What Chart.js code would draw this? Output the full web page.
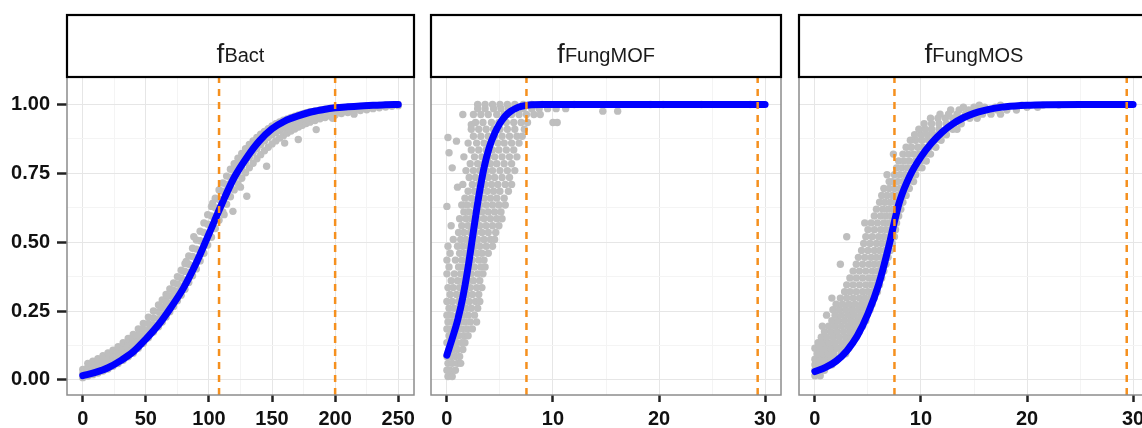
<!DOCTYPE html>
<html>
<head>
<meta charset="utf-8">
<script src="https://cdn.jsdelivr.net/npm/chart.js@4.4.0/dist/chart.umd.min.js"></script>
<style>
  html, body { margin: 0; padding: 0; background: #fff; overflow: hidden; width: 1142px; height: 428px; }
  canvas { position: absolute; top: 0; }
</style>
</head>
<body>
<canvas id="pBact" width="422" height="428" style="left:0px;width:422px;height:428px"></canvas>
<canvas id="pMOF" width="369" height="428" style="left:422px;width:369px;height:428px"></canvas>
<canvas id="pMOS" width="370" height="428" style="left:789px;width:370px;height:428px"></canvas>
<script>
// ---- axis ticks ----
const yMajor = [0, 0.25, 0.5, 0.75, 1];
const yMinor = [0.125, 0.375, 0.625, 0.875];
const bactMajor = [0, 50, 100, 150, 200, 250];
const bactMinor = [25, 75, 125, 175, 225];
const fungMajor = [0, 10, 20, 30];
const fungMinor = [5, 15, 25];

// ---- fitted curves ----
const bactCurveX = [0, 10, 20, 30, 40, 50, 60, 70, 80, 90, 100, 110, 120, 130, 140, 150, 160, 170, 180, 190, 200, 210, 220, 230, 240, 250];
const bactCurveY = [0.015, 0.027, 0.044, 0.070, 0.102, 0.148, 0.200, 0.264, 0.335, 0.425, 0.530, 0.637, 0.735, 0.808, 0.868, 0.912, 0.940, 0.958, 0.972, 0.981, 0.988, 0.992, 0.995, 0.997, 0.999, 1.000];

const mofCurveX = [0, 0.5, 1, 1.5, 2, 2.5, 3, 3.5, 4, 4.5, 5, 5.5, 6, 6.5, 7, 7.5, 8, 9, 10, 15, 20, 25, 30];
const mofCurveY = [0.09, 0.15, 0.215, 0.30, 0.41, 0.54, 0.665, 0.77, 0.845, 0.895, 0.932, 0.958, 0.975, 0.986, 0.993, 0.997, 0.999, 1.0, 1.0, 1.0, 1.0, 1.0, 1.0];

const mosCurveX = [0, 1, 2, 3, 4, 5, 6, 7, 7.5, 8, 9, 10, 11, 12, 13, 14, 15, 16, 17, 18, 20, 22, 25, 30];
const mosCurveY = [0.03, 0.045, 0.068, 0.105, 0.16, 0.24, 0.345, 0.49, 0.575, 0.65, 0.745, 0.81, 0.86, 0.90, 0.93, 0.952, 0.968, 0.979, 0.987, 0.992, 0.997, 0.999, 1.0, 1.0];

// ---- vertical cut-off lines ----
const bactCuts = [108, 200];
const mofCuts = [7.5, 29.3];
const mosCuts = [7.5, 29.4];

// ---- observations: f_Bact, grouped by x -> [y values] ----
const bactObs = [
  [0, [0.008, 0.022, 0.038]], [4, [0.014, 0.03, 0.046, 0.06]], [8, [0.019, 0.036, 0.052, 0.068]],
  [12, [0.025, 0.043, 0.06, 0.077]], [16, [0.032, 0.052, 0.07, 0.088]], [20, [0.039, 0.06, 0.08, 0.098]],
  [24, [0.049, 0.07, 0.09, 0.108]], [28, [0.059, 0.082, 0.102, 0.12]], [32, [0.071, 0.095, 0.115, 0.135]],
  [36, [0.084, 0.108, 0.13, 0.15]], [40, [0.097, 0.122, 0.145, 0.165]], [44, [0.115, 0.14, 0.163, 0.185]],
  [48, [0.133, 0.16, 0.183, 0.205]], [52, [0.153, 0.18, 0.205, 0.228]], [56, [0.174, 0.2, 0.225, 0.25]],
  [60, [0.193, 0.222, 0.248, 0.272]], [63, [0.21, 0.24, 0.265, 0.29]], [66, [0.228, 0.258, 0.285, 0.31]],
  [69, [0.247, 0.278, 0.305, 0.33]], [72, [0.266, 0.298, 0.325, 0.352]], [75, [0.287, 0.32, 0.348, 0.375]],
  [78, [0.307, 0.34, 0.37, 0.398]], [81, [0.329, 0.363, 0.394, 0.422]], [84, [0.354, 0.39, 0.42, 0.45]],
  [87, [0.378, 0.415, 0.448, 0.478]], [90, [0.403, 0.44, 0.475, 0.508]], [93, [0.432, 0.47, 0.505, 0.54]],
  [96, [0.46, 0.5, 0.535, 0.57]], [99, [0.49, 0.53, 0.565, 0.6]], [102, [0.518, 0.56, 0.595, 0.63]],
  [105, [0.55, 0.59, 0.625, 0.66]], [108, [0.58, 0.62, 0.655, 0.69]], [111, [0.61, 0.65, 0.685, 0.715]],
  [114, [0.638, 0.678, 0.71, 0.74]], [117, [0.665, 0.705, 0.735, 0.765]], [120, [0.69, 0.73, 0.76, 0.785]],
  [123, [0.712, 0.75, 0.78, 0.805]], [126, [0.732, 0.77, 0.8, 0.822]], [129, [0.752, 0.79, 0.818, 0.84]],
  [132, [0.77, 0.808, 0.835, 0.855]], [135, [0.787, 0.825, 0.85, 0.868]], [138, [0.803, 0.84, 0.865, 0.88]],
  [141, [0.818, 0.855, 0.878, 0.892]], [144, [0.832, 0.868, 0.89, 0.902]], [147, [0.845, 0.88, 0.9, 0.912]],
  [150, [0.857, 0.89, 0.91, 0.922]], [153, [0.868, 0.898, 0.918, 0.93]], [156, [0.878, 0.906, 0.926, 0.937]],
  [159, [0.887, 0.914, 0.932, 0.943]], [162, [0.896, 0.92, 0.938, 0.948]], [165, [0.904, 0.926, 0.943, 0.953]],
  [168, [0.911, 0.932, 0.948, 0.958]], [171, [0.918, 0.938, 0.953, 0.962]], [174, [0.925, 0.943, 0.957, 0.966]],
  [177, [0.931, 0.948, 0.961, 0.97]], [180, [0.936, 0.952, 0.965, 0.974]], [184, [0.942, 0.957, 0.969, 0.977]],
  [188, [0.948, 0.962, 0.973, 0.98]], [192, [0.953, 0.966, 0.976, 0.983]], [196, [0.958, 0.97, 0.979, 0.986]],
  [200, [0.962, 0.973, 0.982, 0.988]], [205, [0.967, 0.977, 0.986]], [210, [0.971, 0.98, 0.989]],
  [215, [0.975, 0.983, 0.991]], [220, [0.978, 0.986, 0.993]], [225, [0.981, 0.989, 0.995]],
  [230, [0.985, 0.991, 0.996]], [235, [0.988, 0.993, 0.997]], [240, [0.991, 0.995, 0.998]],
  [245, [0.994, 0.997]], [250, [0.996, 0.999]],
  [82, [0.43]], [88, [0.52]], [103, [0.642]], [112, [0.6]], [119, [0.612]], [125, [0.7]],
  [130, [0.667]], [145.7, [0.776]], [160, [0.86]], [170.8, [0.873]], [185, [0.909]],
  [198, [0.95]], [215, [0.965]]
];

// ---- observations: f_FungMOF, grouped by y -> [x values] ----
const mofObs = [
  [0.012, [0.1, 0.5]],
  [0.035, [0.0, 0.3, 0.8]],
  [0.06, [0.1, 0.5, 1.0, 1.3]],
  [0.085, [0.0, 0.4, 0.8, 1.2]],
  [0.11, [0.2, 0.6, 1.0, 1.5]],
  [0.135, [0.0, 0.5, 0.9, 1.4, 1.7]],
  [0.16, [0.2, 0.7, 1.1, 1.6, 2.0]],
  [0.185, [0.0, 0.4, 0.9, 1.4, 1.9, 2.4]],
  [0.21, [0.1, 0.6, 1.2, 1.7, 2.2, 2.8]],
  [0.235, [0.0, 0.4, 1.0, 1.5, 2.0, 2.6]],
  [0.26, [0.2, 0.7, 1.3, 1.8, 2.3, 2.9]],
  [0.285, [0.0, 0.5, 1.1, 1.6, 2.1, 2.7, 3.1]],
  [0.31, [0.3, 0.9, 1.4, 1.9, 2.4, 3.0]],
  [0.335, [0.1, 0.6, 1.2, 1.7, 2.2, 2.8, 3.3]],
  [0.36, [0.4, 1.0, 1.5, 2.0, 2.5, 3.1]],
  [0.385, [0.0, 0.7, 1.3, 1.8, 2.3, 2.9, 3.4]],
  [0.41, [0.2, 1.1, 1.6, 2.1, 2.6, 3.2, 3.6]],
  [0.435, [0.0, 0.8, 1.4, 1.9, 2.4, 3.0, 3.5]],
  [0.46, [0.3, 1.2, 1.7, 2.2, 2.8, 3.3, 3.9]],
  [0.485, [0.1, 1.0, 1.5, 2.0, 2.6, 3.1, 3.7, 4.3]],
  [0.51, [0.6, 1.3, 1.8, 2.4, 2.9, 3.5, 4.1, 4.5]],
  [0.535, [1.1, 1.6, 2.2, 2.7, 3.3, 3.9, 4.6]],
  [0.56, [0.4, 1.4, 2.0, 2.5, 3.1, 3.7, 4.3, 4.9]],
  [0.585, [1.2, 1.8, 2.3, 2.9, 3.5, 4.1, 4.7, 5.2]],
  [0.61, [1.6, 2.1, 2.7, 3.3, 3.9, 4.5, 5.1]],
  [0.63, [0.0]],
  [0.635, [1.4, 1.9, 2.5, 3.1, 3.7, 4.3, 4.9, 5.5]],
  [0.66, [1.7, 2.3, 2.9, 3.5, 4.1, 4.7, 5.4]],
  [0.685, [2.0, 2.6, 3.2, 3.8, 4.4, 5.0, 5.8]],
  [0.70, [1.0]],
  [0.71, [1.5, 2.4, 3.0, 3.6, 4.2, 4.8, 5.5, 6.1]],
  [0.735, [2.1, 2.7, 3.3, 3.9, 4.5, 5.2, 5.9]],
  [0.76, [1.8, 2.5, 3.1, 3.7, 4.3, 5.0, 5.7, 6.4]],
  [0.77, [0.5]],
  [0.785, [2.2, 2.9, 3.5, 4.1, 4.7, 5.4, 6.1]],
  [0.81, [1.6, 2.6, 3.3, 3.9, 4.5, 5.2, 5.9, 6.6]],
  [0.825, [0.2]],
  [0.835, [2.3, 3.0, 3.7, 4.3, 4.9, 5.6, 6.3]],
  [0.86, [2.0, 2.8, 3.5, 4.1, 4.8, 5.4, 6.1, 6.8]],
  [0.867, [0.9]],
  [0.88, [0.1]],
  [0.885, [2.5, 3.2, 3.9, 4.5, 5.2, 5.9, 6.6, 7.1]],
  [0.91, [2.3, 3.0, 3.7, 4.4, 5.0, 5.7, 6.4, 7.3]],
  [0.927, [2.3]],
  [0.935, [2.7, 3.4, 4.2, 4.9, 5.6, 6.3, 7.0, 7.6, 10.0, 10.4]],
  [0.964, [1.5, 2.5, 3.2, 3.9, 4.7, 5.4, 6.1, 6.8, 7.5, 8.2, 8.8]],
  [0.976, [14.7, 16.1]],
  [0.985, [2.9, 3.6, 4.4, 5.1, 5.8, 6.5, 7.2, 8.0, 8.7, 9.5, 10.3, 11.2]],
  [1.0, [2.9, 3.6, 4.3, 5.0, 5.7, 6.4, 7.2, 8.0, 9.0, 12.0, 19.2, 20.4, 24.0, 28.6]]
];

// ---- observations: f_FungMOS, grouped by y -> [x values] ----
const mosObs = [
  [0.015, [0.0, 0.5]],
  [0.035, [0.0, 0.4, 0.9]],
  [0.055, [0.0, 0.4, 0.8, 1.3, 1.6]],
  [0.075, [0.0, 0.5, 1.0, 1.5, 2.1]],
  [0.095, [0.2, 0.7, 1.2, 1.8, 2.5, 2.9]],
  [0.115, [0.0, 0.5, 1.0, 1.5, 2.1, 2.7, 3.2]],
  [0.135, [0.3, 0.8, 1.3, 1.9, 2.5, 3.0, 3.5]],
  [0.155, [0.6, 1.1, 1.7, 2.3, 2.9, 3.4, 3.9]],
  [0.175, [0.9, 1.5, 2.1, 2.7, 3.3, 3.8, 4.2]],
  [0.195, [0.7, 1.3, 1.9, 2.5, 3.1, 3.7, 4.1, 4.5]],
  [0.215, [1.6, 2.2, 2.8, 3.4, 4.0, 4.4, 4.8]],
  [0.235, [1.1, 1.9, 2.5, 3.1, 3.7, 4.3, 4.9]],
  [0.255, [1.7, 2.3, 2.9, 3.5, 4.1, 4.6, 5.2]],
  [0.275, [2.0, 2.6, 3.2, 3.8, 4.4, 4.9, 5.4]],
  [0.297, [1.6, 2.4, 3.0, 3.6, 4.2, 4.7, 5.2, 5.6]],
  [0.32, [2.8, 3.3, 3.9, 4.5, 5.0, 5.5, 5.9]],
  [0.345, [3.0, 3.6, 4.2, 4.8, 5.3, 5.8, 6.1]],
  [0.37, [3.3, 3.9, 4.5, 5.1, 5.6, 6.0, 6.3]],
  [0.395, [3.6, 4.2, 4.8, 5.4, 5.9, 6.3, 6.5]],
  [0.42, [2.4, 3.9, 4.5, 5.1, 5.6, 6.1, 6.5, 6.7]],
  [0.445, [4.1, 4.7, 5.3, 5.8, 6.3, 6.7, 6.9]],
  [0.47, [4.4, 5.0, 5.6, 6.1, 6.6, 6.9, 7.1]],
  [0.495, [4.6, 5.2, 5.8, 6.3, 6.8, 7.1, 7.3]],
  [0.52, [3.0, 4.8, 5.4, 6.0, 6.5, 7.0, 7.3, 7.5]],
  [0.545, [5.0, 5.6, 6.2, 6.7, 7.2, 7.5, 7.6]],
  [0.57, [4.7, 5.3, 5.9, 6.5, 7.0, 7.4, 7.7]],
  [0.595, [5.6, 6.2, 6.7, 7.2, 7.6, 7.9]],
  [0.62, [5.8, 6.4, 6.9, 7.4, 7.8, 8.1]],
  [0.645, [6.1, 6.6, 7.1, 7.6, 8.0, 8.3]],
  [0.67, [6.3, 6.8, 7.3, 7.8, 8.2, 8.6]],
  [0.695, [6.5, 7.0, 7.5, 8.0, 8.5, 8.9]],
  [0.72, [7.0, 7.3, 7.8, 8.3, 8.8, 9.3]],
  [0.745, [6.8, 7.5, 8.0, 8.5, 9.0, 9.5]],
  [0.77, [7.7, 8.2, 8.7, 9.2, 9.7, 10.1]],
  [0.795, [7.9, 8.4, 8.9, 9.5, 10.0, 10.5]],
  [0.82, [7.4, 8.3, 8.8, 9.3, 9.8, 10.4, 10.9]],
  [0.845, [8.6, 9.1, 9.7, 10.2, 10.8, 11.4]],
  [0.87, [9.0, 9.5, 10.1, 10.7, 11.3, 11.9]],
  [0.89, [9.4, 10.0, 10.6, 11.2, 11.8, 12.4]],
  [0.91, [9.8, 10.4, 11.0, 11.7, 12.4, 13.0, 13.4]],
  [0.93, [10.3, 11.0, 11.7, 12.4, 13.1, 13.8]],
  [0.95, [10.9, 11.6, 12.3, 13.0, 13.8, 14.6, 15.3]],
  [0.965, [11.8, 12.6, 13.4, 14.2, 15.0, 15.8, 16.6, 17.5]],
  [0.98, [12.8, 13.6, 14.5, 15.4, 16.3, 17.2, 18.1, 19.0]],
  [0.99, [14.0, 15.0, 16.0, 17.0, 18.0, 19.0, 20.0, 21.0]],
  [0.998, [15.5, 17.5, 19.5, 21.5, 23.0]]
];

// ---- helpers ----
function fromColumns(cols) {
  const out = [];
  cols.forEach(([x, ys]) => ys.forEach(y => out.push({ x, y })));
  return out;
}
function fromRows(rows) {
  const out = [];
  rows.forEach(([y, xs]) => xs.forEach(x => out.push({ x, y })));
  return out;
}
function zipXY(xs, ys) { return xs.map((x, i) => ({ x, y: ys[i] })); }

function tickSetter(major, minor) {
  return function (scale) {
    const t = major.map(v => ({ value: v, minor: false }))
      .concat(minor.map(v => ({ value: v, minor: true })));
    t.sort((a, b) => a.value - b.value);
    scale.ticks = t;
  };
}

const Y_MIN = -0.055, Y_MAX = 1.1;
const STRIP_TOP = 15;
const tickFont = { family: "'Liberation Sans', Arial, sans-serif", size: 20, weight: 'bold' };

// facet strip on top of the panel plus grey panel frame
const facetPlugin = {
  id: 'facet',
  afterDatasetsDraw(chart) {
    const a = chart.chartArea, ctx = chart.ctx;
    ctx.save();
    ctx.strokeStyle = '#8c8c8c';
    ctx.lineWidth = 1.5;
    ctx.strokeRect(a.left, a.top, a.right - a.left, a.bottom - a.top);
    ctx.restore();
  },
  afterDraw(chart, args, opts) {
    const a = chart.chartArea, ctx = chart.ctx;
    ctx.save();
    ctx.fillStyle = '#ffffff';
    ctx.fillRect(a.left, STRIP_TOP, a.right - a.left, a.top - STRIP_TOP);
    ctx.strokeStyle = '#000000';
    ctx.lineWidth = 2.2;
    ctx.strokeRect(a.left, STRIP_TOP, a.right - a.left, a.top - STRIP_TOP);
    const mainFont = "28px 'Liberation Sans', Arial, sans-serif";
    const subFont = "20px 'Liberation Sans', Arial, sans-serif";
    ctx.font = mainFont;
    const wMain = ctx.measureText(opts.main).width;
    ctx.font = subFont;
    const wSub = ctx.measureText(opts.sub).width;
    const total = wMain + wSub;
    const x0 = (a.left + a.right) / 2 - total / 2;
    ctx.fillStyle = '#1a1a1a';
    ctx.textBaseline = 'alphabetic';
    ctx.textAlign = 'left';
    ctx.font = mainFont;
    ctx.fillText(opts.main, x0, 63);
    ctx.font = subFont;
    ctx.fillText(opts.sub, x0 + wMain, 62);
    ctx.restore();
  }
};

function makePanel(id, p) {
  const datasets = [];
  p.cuts.forEach(c => datasets.push({
    type: 'line',
    data: [{ x: c, y: Y_MIN }, { x: c, y: Y_MAX }],
    borderColor: '#f5901e',
    borderWidth: 2.5,
    borderDash: [7, 6],
    pointRadius: 0,
    showLine: true,
    order: 1
  }));
  datasets.push({
    type: 'line',
    data: p.curve,
    borderColor: '#0000ff',
    borderWidth: 7,
    borderCapStyle: 'round',
    borderJoinStyle: 'round',
    cubicInterpolationMode: 'monotone',
    pointRadius: 0,
    showLine: true,
    fill: false,
    order: 2
  });
  datasets.push({
    type: 'scatter',
    data: p.points,
    pointRadius: 3.7,
    pointBackgroundColor: '#bebebe',
    pointBorderColor: '#bebebe',
    pointBorderWidth: 0,
    pointHoverRadius: 3.7,
    order: 3
  });

  return new Chart(document.getElementById(id), {
    type: 'scatter',
    data: { datasets },
    plugins: [facetPlugin],
    options: {
      responsive: false,
      animation: false,
      devicePixelRatio: 1,
      events: [],
      layout: { padding: { top: 77, right: p.padRight, left: 0, bottom: 0 } },
      plugins: {
        legend: { display: false },
        tooltip: { enabled: false },
        facet: { main: 'f', sub: p.sub }
      },
      scales: {
        x: {
          type: 'linear',
          min: p.xMin,
          max: p.xMax,
          afterBuildTicks: tickSetter(p.xMajor, p.xMinor),
          afterFit(scale) { scale.height = 33; },
          border: { display: false },
          grid: {
            color: c => (c.tick && c.tick.minor) ? '#f4f4f4' : '#e6e6e6',
            lineWidth: 1,
            drawTicks: true,
            tickLength: 7,
            tickWidth: 2.5,
            tickColor: c => (c.tick && c.tick.minor) ? 'rgba(0,0,0,0)' : '#222'
          },
          ticks: {
            autoSkip: false,
            maxRotation: 0,
            padding: 5,
            color: '#111',
            font: tickFont,
            callback: (v, i, ticks) => ticks[i].minor ? '' : String(v)
          }
        },
        y: {
          type: 'linear',
          min: Y_MIN,
          max: Y_MAX,
          afterBuildTicks: tickSetter(yMajor, yMinor),
          afterFit(scale) { scale.width = p.axisW; },
          border: { display: false },
          grid: {
            color: c => (c.tick && c.tick.minor) ? '#f4f4f4' : '#e6e6e6',
            lineWidth: 1,
            drawTicks: p.showY,
            tickLength: 10,
            tickWidth: 2.5,
            tickColor: c => (c.tick && c.tick.minor) ? 'rgba(0,0,0,0)' : '#222'
          },
          ticks: {
            display: p.showY,
            autoSkip: false,
            padding: 7,
            color: '#111',
            font: tickFont,
            callback: (v, i, ticks) => ticks[i].minor ? '' : v.toFixed(2)
          }
        }
      }
    }
  });
}

makePanel('pBact', {
  sub: 'Bact',
  points: fromColumns(bactObs),
  curve: zipXY(bactCurveX, bactCurveY),
  cuts: bactCuts,
  xMin: -12.5, xMax: 262.5,
  xMajor: bactMajor, xMinor: bactMinor,
  axisW: 67, padRight: 8, showY: true
});
makePanel('pMOF', {
  sub: 'FungMOF',
  points: fromRows(mofObs),
  curve: zipXY(mofCurveX, mofCurveY),
  cuts: mofCuts,
  xMin: -1.5, xMax: 31.5,
  xMajor: fungMajor, xMinor: fungMinor,
  axisW: 9, padRight: 10, showY: false
});
makePanel('pMOS', {
  sub: 'FungMOS',
  points: fromRows(mosObs),
  curve: zipXY(mosCurveX, mosCurveY),
  cuts: mosCuts,
  xMin: -1.5, xMax: 31.5,
  xMajor: fungMajor, xMinor: fungMinor,
  axisW: 10, padRight: 10, showY: false
});
</script>
</body>
</html>
